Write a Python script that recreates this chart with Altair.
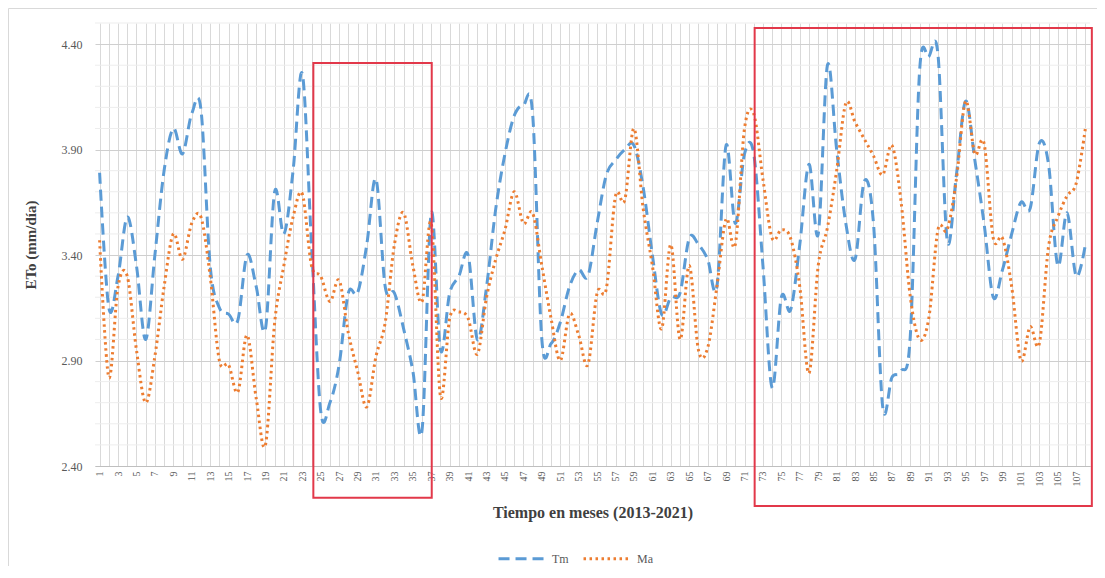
import altair as alt
import pandas as pd

# ---------------- data ----------------
months = list(range(1, 109))

tm = [3.79, 3.15, 3.30, 3.58, 3.35, 3.00, 3.40, 3.80, 4.00, 3.88,
      4.07, 4.09, 3.35, 3.15, 3.12, 3.09, 3.40, 3.25, 3.05, 3.70,
      3.50, 3.80, 4.26, 3.45, 2.66, 2.70, 2.88, 3.22, 3.22, 3.45,
      3.76, 3.25, 3.22, 3.05, 2.85, 2.57, 3.60, 2.95, 3.22, 3.30,
      3.40, 3.00, 3.25, 3.62, 3.88, 4.06, 4.11, 4.07, 3.00, 2.98,
      3.08, 3.25, 3.33, 3.30, 3.55, 3.78, 3.85, 3.90, 3.92, 3.72,
      3.40, 3.12, 3.20, 3.22, 3.48, 3.45, 3.38, 3.25, 3.92, 3.55,
      3.88, 3.88, 3.35, 2.77, 3.20, 3.14, 3.45, 3.83, 3.50, 4.30,
      3.90, 3.55, 3.38, 3.75, 3.55, 2.68, 2.82, 2.85, 3.02, 4.27,
      4.34, 4.35, 3.47, 3.78, 4.13, 3.85, 3.55, 3.20, 3.33, 3.50,
      3.65, 3.62, 3.93, 3.83, 3.35, 3.60, 3.30, 3.45]

ma = [3.47, 2.82, 3.25, 3.30, 2.95, 2.70, 2.92, 3.25, 3.50, 3.38,
      3.55, 3.58, 3.30, 2.90, 2.88, 2.75, 3.02, 2.72, 2.50, 3.08,
      3.35, 3.58, 3.69, 3.35, 3.30, 3.18, 3.28, 3.03, 2.85, 2.68,
      2.92, 3.08, 3.45, 3.60, 3.35, 3.18, 3.55, 2.73, 3.10, 3.13,
      3.10, 2.93, 3.20, 3.38, 3.52, 3.70, 3.55, 3.60, 3.35, 3.10,
      2.90, 3.12, 3.02, 2.88, 3.22, 3.24, 3.68, 3.66, 4.00, 3.62,
      3.35, 3.05, 3.45, 3.00, 3.35, 2.95, 2.96, 3.25, 3.57, 3.45,
      4.00, 4.07, 3.76, 3.48, 3.52, 3.48, 3.25, 2.84, 3.35, 3.53,
      3.80, 4.12, 4.03, 3.95, 3.87, 3.78, 3.92, 3.65, 3.20, 3.00,
      3.10, 3.52, 3.52, 3.76, 4.13, 3.88, 3.93, 3.48, 3.48, 3.25,
      2.90, 3.06, 2.98, 3.44, 3.58, 3.68, 3.74, 4.00]

series_names = ["Tm", "Ma"]
y_ticks = [2.40, 2.90, 3.40, 3.90, 4.40]
minor_grid = [2.5, 2.6, 2.7, 2.8, 3.0, 3.1, 3.2, 3.3, 3.5, 3.6, 3.7, 3.8,
              4.0, 4.1, 4.2, 4.3, 4.5]

# highlight boxes (data units: month, ETo)
box_x = [24.2, 72.1]
box_x2 = [37.05, 108.7]
box_y = [4.31, 4.476]
box_y2 = [2.25, 2.21]

X_TITLE = "Tiempo en meses (2013-2021)"
Y_TITLE = "ETo (mm/día)"

# ---------------- tables ----------------
df = pd.DataFrame({
    "Mes": months * 2,
    "ETo": tm + ma,
    "Serie": ["Tm"] * len(tm) + ["Ma"] * len(ma),
})
grid_df = pd.DataFrame({"g": minor_grid})
box_df = pd.DataFrame({"x": box_x, "x2": box_x2, "y": box_y, "y2": box_y2})

SERIF = "Liberation Serif"
xscale = alt.Scale(domain=[0.5, 108.5], nice=False, zero=False)
yscale = alt.Scale(domain=[2.4, 4.5], nice=False, zero=False)

x_axis = alt.Axis(values=months,
                  labelExpr="datum.value % 2 == 1 ? datum.label : ''",
                  labelAngle=270, labelFont=SERIF, labelFontSize=10,
                  labelColor="#595959", labelPadding=5,
                  grid=True, gridColor="#d9d9d9", gridWidth=1,
                  ticks=False, domain=True, domainColor="#bfbfbf",
                  title=X_TITLE, titleFont=SERIF, titleFontSize=16,
                  titleFontWeight="bold", titleColor="#404040",
                  titlePadding=18)
y_axis = alt.Axis(values=y_ticks, format=".2f",
                  labelFont=SERIF, labelFontSize=12,
                  labelColor="#595959", labelPadding=13,
                  grid=True, gridColor="#cfcfcf", gridWidth=1,
                  ticks=False, domain=False,
                  title=Y_TITLE, titleFont=SERIF,
                  titleFontSize=15, titleFontWeight="bold",
                  titleColor="#404040", titlePadding=23)

frame = alt.Chart(pd.DataFrame({"a": [0]})).mark_rect(
    fillOpacity=0, stroke="#d9d9d9", strokeWidth=1).encode(
    x=alt.value(-86.5), x2=alt.value(1004), y=alt.value(-14.5), y2=alt.value(580)
)

minor = alt.Chart(grid_df).mark_rule(color="#ededed", strokeWidth=1).encode(
    y=alt.Y("g:Q", scale=yscale, axis=y_axis, title=Y_TITLE)
)

lines = alt.Chart(df).mark_line(interpolate="cardinal", strokeWidth=3).encode(
    x=alt.X("Mes:Q", scale=xscale, axis=x_axis, title=X_TITLE),
    y=alt.Y("ETo:Q", scale=yscale, axis=y_axis, title=Y_TITLE),
    color=alt.Color("Serie:N",
                    scale=alt.Scale(domain=series_names,
                                    range=["#5B9BD5", "#ED7D31"]),
                    legend=alt.Legend(title=None)),
    strokeDash=alt.StrokeDash("Serie:N",
                              scale=alt.Scale(domain=series_names,
                                              range=[[11, 6], [2.5, 3.5]]),
                              legend=alt.Legend(title=None)),
    detail="Serie:N",
)

boxes = alt.Chart(box_df).mark_rect(fillOpacity=0, stroke="#e2384a",
                                    strokeWidth=2).encode(
    x=alt.X("x:Q", scale=xscale, axis=x_axis, title=X_TITLE),
    x2="x2:Q",
    y=alt.Y("y:Q", scale=yscale, axis=y_axis, title=Y_TITLE),
    y2="y2:Q",
)

chart = alt.layer(frame, minor, lines, boxes).properties(
    width=995, height=443,
    autosize=alt.AutoSizeParams(type="none"),
    padding={"left": 87, "top": 15, "right": 7, "bottom": 100},
).configure_view(strokeWidth=0).configure_legend(
    orient="none", legendX=402, legendY=510, direction="horizontal",
    symbolType="stroke", symbolSize=2300, symbolStrokeWidth=3,
    labelFont=SERIF, labelFontSize=12, labelColor="#595959",
    columnPadding=8,
)

chart.save("out.html", embed_options={"renderer": "svg", "actions": False})
